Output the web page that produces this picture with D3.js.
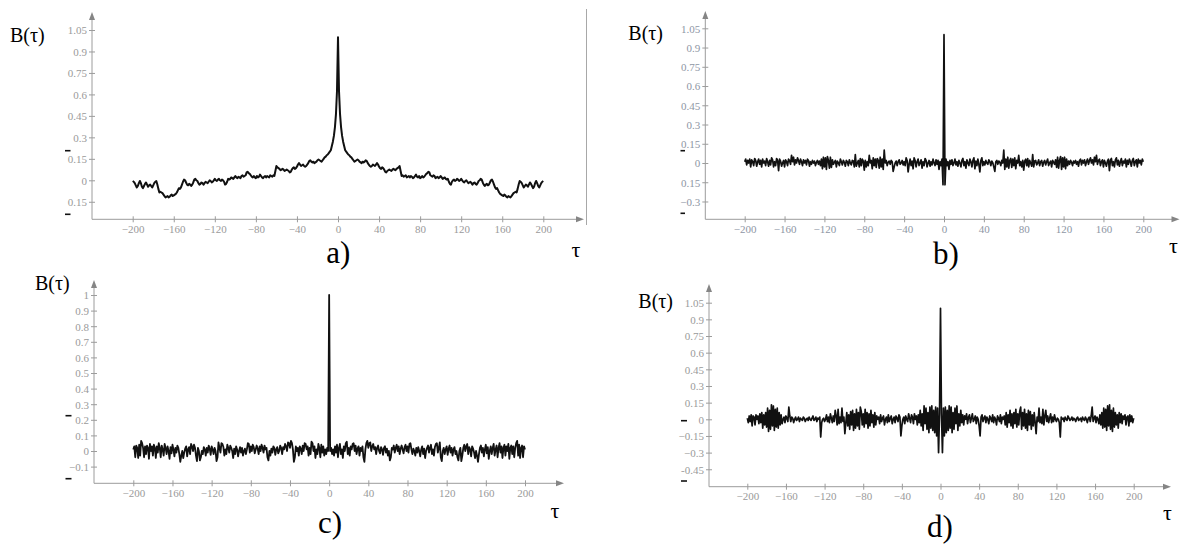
<!DOCTYPE html>
<html>
<head>
<meta charset="utf-8">
<script src="https://cdn.jsdelivr.net/npm/d3@7"></script>
<style>
  html, body { margin: 0; padding: 0; background: #fff; }
  svg { display: block; }
</style>
</head>
<body>
<svg id="chart" width="1180" height="548"></svg>
<script>
// ---------------------------------------------------------------------------
// Data: normalised autocorrelation B(τ) of four signals, one-sided (τ = 0…200).
// B is an even function, so the plotted curve uses B(−τ) = B(τ).
// ---------------------------------------------------------------------------
const acfA = [
  1.0, 0.62, 0.46, 0.37, 0.31, 0.27, 0.24, 0.21, 0.2, 0.19,
  0.18, 0.175, 0.165, 0.16, 0.15, 0.14, 0.13, 0.135, 0.14, 0.145,
  0.14, 0.13, 0.125, 0.12, 0.13, 0.125, 0.13, 0.14, 0.135, 0.12,
  0.11, 0.1, 0.095, 0.1, 0.11, 0.105, 0.1, 0.11, 0.12, 0.11,
  0.095, 0.085, 0.08, 0.09, 0.085, 0.075, 0.06, 0.055, 0.065, 0.07,
  0.075, 0.07, 0.065, 0.075, 0.08, 0.075, 0.07, 0.08, 0.085, 0.09,
  0.1, 0.065, 0.03, 0.035, 0.025, 0.03, 0.035, 0.02, 0.025, 0.03,
  0.02, 0.03, 0.025, 0.015, 0.02, 0.03, 0.04, 0.025, 0.02, 0.03,
  0.015, 0.02, 0.03, 0.02, 0.025, 0.035, 0.045, 0.05, 0.06, 0.055,
  0.035, 0.03, 0.025, 0.035, 0.03, 0.015, 0.02, 0.025, 0.015, 0.02,
  0.03, 0.02, 0.01, 0.015, 0.02, 0.01, 0.005, 0.01, -0.01, -0.025,
  -0.03, -0.01, 0.0, 0.005, -0.005, 0.0, 0.01, 0.005, -0.005, 0.0,
  0.01, 0.0, -0.01, -0.015, -0.005, 0.0, -0.01, -0.02, -0.015, -0.01,
  -0.02, -0.03, -0.02, -0.015, -0.025, -0.03, -0.02, -0.005, 0.0, 0.01,
  0.005, -0.015, -0.03, -0.04, -0.03, -0.025, -0.035, -0.03, -0.015, 0.0,
  0.005, -0.01, -0.03, -0.05, -0.06, -0.055, -0.07, -0.085, -0.095, -0.1,
  -0.105, -0.11, -0.1, -0.105, -0.115, -0.12, -0.11, -0.115, -0.12, -0.11,
  -0.1, -0.09, -0.085, -0.08, -0.085, -0.06, -0.03, -0.005, -0.01, -0.02,
  -0.035, -0.05, -0.04, -0.03, -0.035, -0.045, -0.03, -0.015, -0.025, -0.04,
  -0.055, -0.045, -0.02, -0.005, -0.02, -0.04, -0.05, -0.035, -0.02, -0.01,
  -0.005
];

const acfB = [
  1.0, -0.17, 0.03, -0.02, 0.01, -0.05, 0.02, -0.01, 0.025, -0.02,
  0.0, 0.03, -0.015, 0.01, -0.025, 0.02, 0.0, -0.03, 0.02, 0.035,
  -0.02, 0.01, -0.04, 0.025, 0.0, -0.02, 0.03, 0.01, -0.03, 0.02,
  0.04, -0.045, 0.015, -0.02, 0.03, -0.01, -0.07, 0.02, 0.04, -0.02,
  0.01, -0.015, 0.02, 0.0, -0.01, 0.025, 0.01, -0.02, 0.015, 0.0,
  -0.03, -0.065, 0.01, 0.02, -0.01, 0.015, 0.005, -0.02, 0.02, 0.0,
  0.1, -0.05, 0.03, -0.03, 0.045, -0.04, 0.02, 0.035, -0.035, 0.03,
  -0.02, 0.04, -0.045, 0.02, 0.0, 0.06, -0.02, 0.01, -0.03, 0.02,
  -0.055, 0.015, 0.03, -0.02, 0.035, -0.03, 0.02, 0.0, -0.025, 0.065,
  -0.03, 0.015, 0.02, -0.015, 0.0, 0.025, -0.02, 0.01, 0.02, -0.025,
  0.005, 0.02, -0.015, 0.01, 0.03, -0.02, 0.0, 0.015, -0.03, 0.02,
  0.005, -0.01, 0.025, -0.035, 0.045, -0.04, 0.02, 0.05, -0.05, 0.04,
  -0.03, 0.045, -0.045, 0.03, -0.02, 0.015, -0.01, 0.02, 0.005, -0.02,
  0.015, 0.0, 0.02, -0.01, 0.01, -0.025, 0.02, 0.03, -0.015, 0.02,
  0.0, 0.025, -0.02, 0.01, 0.03, -0.01, 0.02, 0.04, 0.0, 0.025,
  -0.015, 0.045, 0.01, 0.06, -0.01, 0.02, 0.03, -0.02, 0.01, 0.025,
  -0.03, 0.02, 0.0, -0.025, 0.015, 0.03, -0.06, 0.02, 0.035, -0.02,
  0.01, -0.03, 0.025, 0.04, -0.015, 0.02, -0.025, 0.01, 0.035, -0.02,
  0.015, 0.0, 0.03, -0.03, 0.02, -0.01, 0.03, 0.01, -0.025, 0.02,
  0.035, -0.02, 0.01, 0.025, -0.03, 0.03, 0.0, 0.02, -0.015, 0.03,
  0.01
];

const acfC = [
  1.0, 0.0, 0.02, -0.02, 0.01, -0.03, 0.03, -0.01, 0.04, -0.04,
  0.02, 0.045, -0.02, 0.01, -0.045, 0.03, 0.0, 0.05, 0.06, -0.02,
  0.02, -0.03, 0.03, 0.01, 0.045, 0.05, 0.0, 0.035, -0.02, 0.015,
  0.03, -0.03, 0.02, 0.0, 0.03, -0.04, -0.07, 0.01, 0.05, 0.065,
  0.02, 0.05, 0.055, 0.0, 0.03, 0.045, 0.01, 0.025, -0.02, 0.02,
  0.035, 0.0, -0.015, 0.025, 0.01, -0.025, 0.02, 0.03, -0.01, 0.015,
  -0.03, 0.0, -0.06, -0.04, 0.02, 0.01, 0.035, -0.01, 0.02, 0.04,
  0.0, 0.03, -0.02, 0.015, 0.035, 0.01, -0.015, 0.025, 0.04, 0.0,
  0.03, -0.01, 0.045, 0.05, 0.01, -0.02, 0.015, 0.0, -0.03, 0.02,
  -0.01, 0.025, 0.0, -0.035, 0.01, 0.03, -0.02, 0.015, -0.045, 0.0,
  0.02, 0.035, -0.01, 0.02, 0.04, -0.02, 0.01, -0.03, 0.025, 0.045,
  0.05, -0.01, 0.02, 0.055, -0.04, -0.065, 0.0, 0.02, -0.02, 0.01,
  0.03, -0.025, 0.015, 0.035, -0.01, 0.02, -0.03, 0.01, 0.025, -0.02,
  0.0, -0.04, -0.06, 0.0, 0.02, -0.065, -0.03, 0.02, 0.04, 0.0,
  0.03, 0.045, -0.02, 0.025, 0.01, -0.035, 0.03, 0.015, -0.01, -0.045,
  0.0, -0.03, -0.07, -0.02, 0.02, 0.035, -0.01, 0.02, -0.035, 0.01,
  0.04, -0.015, 0.025, -0.05, 0.0, 0.03, -0.02, 0.02, 0.045, -0.03,
  0.01, 0.035, -0.04, 0.02, 0.05, -0.01, 0.03, -0.045, 0.02, 0.04,
  -0.03, 0.03, 0.0, 0.045, -0.05, 0.02, 0.035, -0.02, 0.03, -0.04,
  0.02, 0.05, 0.065, -0.03, 0.04, -0.045, 0.02, 0.035, -0.04, 0.03,
  0.01
];

const acfD = [
  1.0, 0.05, -0.3, 0.1, -0.15, 0.11, -0.12, 0.08, -0.1, 0.12,
  -0.08, 0.11, -0.12, 0.06, -0.09, 0.1, -0.04, 0.12, -0.1, 0.05,
  -0.06, 0.08, -0.03, 0.04, -0.05, 0.03, 0.0, 0.05, -0.04, 0.02,
  0.04, -0.03, 0.01, 0.05, -0.02, 0.0, 0.03, -0.04, 0.02, 0.0,
  -0.06, -0.15, 0.02, 0.04, -0.02, 0.01, 0.03, -0.03, 0.02, 0.0,
  -0.04, 0.03, 0.01, -0.02, 0.04, -0.03, 0.02, 0.0, -0.05, 0.03,
  0.01, -0.02, 0.04, -0.04, 0.02, 0.0, 0.03, -0.05, 0.06, -0.07,
  0.04, -0.03, 0.08, -0.06, 0.05, -0.08, 0.06, -0.04, 0.09, -0.07,
  0.05, -0.05, 0.07, 0.11, -0.09, 0.06, -0.06, 0.09, -0.08, 0.05,
  -0.1, 0.08, -0.05, 0.07, -0.09, 0.04, -0.06, 0.06, -0.03, -0.13,
  0.02, -0.02, 0.1, -0.03, 0.02, -0.04, 0.09, -0.05, 0.03, 0.08,
  -0.02, 0.03, -0.03, 0.01, 0.05, -0.03, 0.02, -0.02, 0.04, 0.0,
  -0.02, 0.01, 0.0, -0.03, -0.16, 0.02, 0.0, 0.01, -0.02, 0.02,
  0.0, -0.01, 0.03, 0.01, -0.01, 0.0, 0.02, -0.01, 0.01, 0.0,
  -0.02, 0.01, 0.02, -0.01, 0.0, 0.01, -0.02, 0.02, 0.0, -0.01,
  0.02, 0.0, -0.03, 0.01, 0.02, -0.02, 0.03, 0.11, -0.02, 0.01,
  0.03, -0.03, 0.02, 0.0, -0.04, 0.04, -0.05, 0.06, -0.08, 0.1,
  -0.07, 0.09, -0.1, 0.12, -0.06, 0.13, -0.09, 0.08, -0.11, 0.1,
  -0.07, 0.06, -0.05, 0.04, -0.08, 0.06, -0.03, 0.05, -0.04, 0.03,
  0.0, 0.04, -0.05, 0.02, 0.03, -0.06, 0.04, -0.02, 0.03, -0.03,
  0.01
];

// Axis ticks and their printed labels
const lagTicks = [-200, -160, -120, -80, -40, 0, 40, 80, 120, 160, 200];
const lagTickLabels = ["−200", "−160", "−120", "−80", "−40", "0", "40", "80", "120", "160", "200"];

const yTicksA = [1.05, 0.9, 0.75, 0.6, 0.45, 0.3, 0.15, 0, -0.15];
const yLabelsA = ["1.05", "0.9", "0.75", "0.6", "0.45", "0.3", "0.15", "0", "0.15"];

const yTicksB = [1.05, 0.9, 0.75, 0.6, 0.45, 0.3, 0.15, 0, -0.15, -0.3];
const yLabelsB = ["1.05", "0.9", "0.75", "0.6", "0.45", "0.3", "0.15", "0", "0.15", "−0.3"];

const yTicksC = [1, 0.9, 0.8, 0.7, 0.6, 0.5, 0.4, 0.3, 0.2, 0.1, 0, -0.1];
const yLabelsC = ["1", "0.9", "0.8", "0.7", "0.6", "0.5", "0.4", "0.3", "0.2", "0.1", "0", "−0.1"];

const yTicksD = [1.05, 0.9, 0.75, 0.6, 0.45, 0.3, 0.15, 0, -0.15, -0.3, -0.45];
const yLabelsD = ["1.05", "0.9", "0.75", "0.6", "0.45", "0.3", "0.15", "0", "−0.15", "−0.3", "-0.45"];

const panelLetters = ["a)", "b)", "c)", "d)"];

// ---------------------------------------------------------------------------
// Layout of the four panels (pixel geometry only)
// ---------------------------------------------------------------------------
const layout = [
  { xr: [132.7, 543.3], y0: 180.3, yRef: 1.05, yRefPx: 30,
    axisX: 92, axisY: 219.3, xEnd: 584, yEnd: 12,
    dash: [65, 70.5], dashY: [150.7, 214.3],
    bPos: [10, 41.7], tauPos: [571.5, 257], letterPos: [338.3, 263],
    labelColor: "#9a9a9a", curveWidth: 2.0, frameX: 586.5 },
  { xr: [744.7, 1143.3], y0: 163, yRef: 1.05, yRefPx: 28.3,
    axisX: 705.3, axisY: 219.3, xEnd: 1179.5, yEnd: 11,
    dash: [680.5, 685], dashY: [150.7, 213.3],
    bPos: [628.3, 40], tauPos: [1169, 253], letterPos: [946, 264],
    labelColor: "#8e96a4", curveWidth: 1.7 },
  { xr: [133.3, 525], y0: 451, yRef: 1, yRefPx: 295,
    axisX: 94, axisY: 483.3, xEnd: 564, yEnd: 280,
    dash: [65.5, 71.5], dashY: [415.7, 478.7],
    bPos: [35, 290], tauPos: [550.5, 518], letterPos: [330, 533],
    labelColor: "#9a9a9a", curveWidth: 1.8 },
  { xr: [747.3, 1133.7], y0: 419.3, yRef: 1.05, yRefPx: 302.7,
    axisX: 709, axisY: 486.7, xEnd: 1171, yEnd: 284,
    dash: [681, 687], dashY: [420.7, 481],
    bPos: [638.3, 308], tauPos: [1163, 520], letterPos: [940, 537],
    labelColor: "#9a9a9a", curveWidth: 1.7 }
];

const series = [acfA, acfB, acfC, acfD];
const yTicks = [yTicksA, yTicksB, yTicksC, yTicksD];
const yLabels = [yLabelsA, yLabelsB, yLabelsC, yLabelsD];

const svg = d3.select("#chart");
const axisGrey = "#9c9c9c";
const arrowGrey = "#858585";
const serif = "'Liberation Serif', 'Times New Roman', serif";

layout.forEach((L, i) => {
  const g = svg.append("g");

  const x = d3.scaleLinear().domain([-200, 200]).range(L.xr);
  const y = d3.scaleLinear().domain([0, L.yRef]).range([L.y0, L.yRefPx]);

  // Two-sided series from the even function
  const half = series[i];
  const points = d3.range(-200, 201).map(t => ({ t, v: half[Math.abs(t)] }));

  // Axis lines with arrow heads
  g.append("line")
    .attr("x1", L.axisX).attr("x2", L.xEnd - 6)
    .attr("y1", L.axisY).attr("y2", L.axisY)
    .attr("stroke", axisGrey).attr("stroke-width", 1);
  g.append("line")
    .attr("x1", L.axisX).attr("x2", L.axisX)
    .attr("y1", L.axisY).attr("y2", L.yEnd + 6)
    .attr("stroke", axisGrey).attr("stroke-width", 1);
  g.append("path")
    .attr("d", `M${L.xEnd},${L.axisY} L${L.xEnd - 8},${L.axisY - 3} L${L.xEnd - 8},${L.axisY + 3} Z`)
    .attr("fill", arrowGrey);
  g.append("path")
    .attr("d", `M${L.axisX},${L.yEnd} L${L.axisX - 3},${L.yEnd + 8} L${L.axisX + 3},${L.yEnd + 8} Z`)
    .attr("fill", arrowGrey);

  // τ axis ticks
  const xAxis = d3.axisBottom(x)
    .tickValues(lagTicks)
    .tickFormat((d, k) => lagTickLabels[k])
    .tickSize(3);
  const gx = g.append("g").attr("transform", `translate(0,${L.axisY})`).call(xAxis);
  gx.select(".domain").remove();
  gx.attr("font-family", null).attr("font-size", null);
  gx.selectAll(".tick line").attr("y1", -3).attr("y2", 3).attr("stroke", axisGrey);
  gx.selectAll(".tick text")
    .attr("y", 13.5).attr("dy", null)
    .attr("fill", L.labelColor)
    .style("font-family", serif).style("font-size", "11px");

  // B axis ticks
  const yAxis = d3.axisLeft(y)
    .tickValues(yTicks[i])
    .tickFormat((d, k) => yLabels[i][k])
    .tickSize(3);
  const gy = g.append("g").attr("transform", `translate(${L.axisX},0)`).call(yAxis);
  gy.select(".domain").remove();
  gy.attr("font-family", null).attr("font-size", null);
  gy.selectAll(".tick line").attr("x1", -3).attr("x2", 3).attr("stroke", axisGrey);
  gy.selectAll(".tick text")
    .attr("x", -5).attr("dy", "0.35em")
    .attr("fill", L.labelColor)
    .style("font-family", serif).style("font-size", "11px");

  // Short dark marks left of the B axis
  L.dashY.forEach(yy => {
    g.append("line")
      .attr("x1", L.dash[0]).attr("x2", L.dash[1])
      .attr("y1", yy).attr("y2", yy)
      .attr("stroke", "#111").attr("stroke-width", 1.6);
  });

  // The autocorrelation curve
  const line = d3.line().x(d => x(d.t)).y(d => y(d.v));
  g.append("path")
    .datum(points)
    .attr("d", line)
    .attr("fill", "none")
    .attr("stroke", "#111")
    .attr("stroke-width", L.curveWidth)
    .attr("stroke-linejoin", "round");

  // Axis names and panel letter
  g.append("text")
    .attr("x", L.bPos[0]).attr("y", L.bPos[1])
    .style("font-family", serif)
    .style("font-size", "20px")
    .attr("fill", "#000")
    .text("B(τ)");
  g.append("text")
    .attr("x", L.tauPos[0]).attr("y", L.tauPos[1])
    .style("font-family", serif)
    .style("font-size", "22px")
    .attr("fill", "#000")
    .text("τ");
  g.append("text")
    .attr("x", L.letterPos[0]).attr("y", L.letterPos[1])
    .attr("text-anchor", "middle")
    .style("font-family", serif)
    .style("font-size", "31px")
    .attr("fill", "#000")
    .text(panelLetters[i]);

  if (L.frameX) {
    g.append("line")
      .attr("x1", L.frameX).attr("x2", L.frameX)
      .attr("y1", 9).attr("y2", 225)
      .attr("stroke", "#a8a8a8").attr("stroke-width", 1);
  }
});
</script>
</body>
</html>
